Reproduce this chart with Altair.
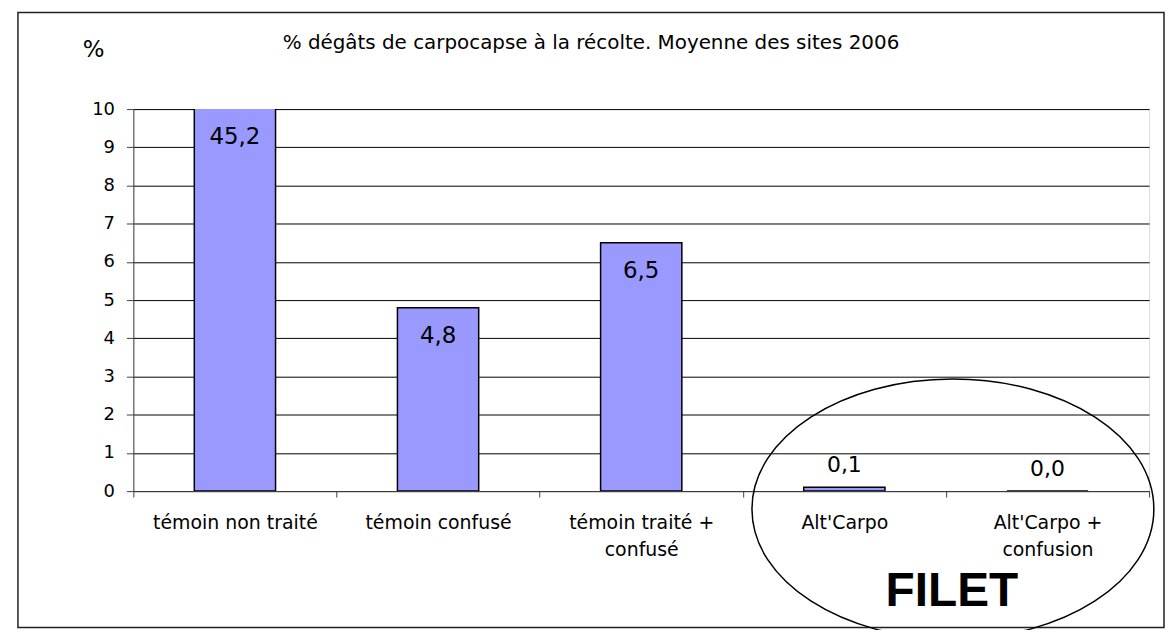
import altair as alt
import pandas as pd

# ---- data ----
categories = ["témoin non traité", "témoin confusé", "témoin traité + confusé",
              "Alt'Carpo", "Alt'Carpo + confusion"]
values = [45.2, 4.8, 6.5, 0.1, 0.0]
y_ticks = [0, 1, 2, 3, 4, 5, 6, 7, 8, 9, 10]
title_text = "% dégâts de carpocapse à la récolte. Moyenne des sites 2006"
y_title = "%"
group_label = "FILET"
group_anchor = ["Alt'Carpo + confusion"]

FONT = "DejaVu Sans"
df = pd.DataFrame({"cat": categories, "v": values})

y_scale = alt.Scale(domain=[0, 10], nice=False, zero=True)
y_axis = alt.Axis(values=y_ticks, format="d", labelFont=FONT, labelFontSize=18,
                  labelColor="#000", labelPadding=12, tickSize=7,
                  domainColor="#404040", tickColor="#404040",
                  grid=True, gridColor="#000", gridWidth=1, title=None)
x_axis = alt.Axis(labelAngle=0, tickBand="extent",
                  labelExpr="isString(datum.value) ? split(replace(datum.value, '+ ', '+|'), '|') : ''",
                  labelFont=FONT, labelFontSize=19, labelColor="#000",
                  labelPadding=17, labelLineHeight=27, labelLimit=0,
                  tickSize=6, domainColor="#404040", tickColor="#404040",
                  grid=False, title=None)
x_scale = alt.Scale(paddingInner=0, paddingOuter=0)


def xenc(band=None):
    if band is None:
        return alt.X("cat:N", sort=categories, scale=x_scale, axis=x_axis, title=None)
    return alt.X("cat:N", sort=categories, scale=x_scale, axis=x_axis, title=None,
                 bandPosition=band)


def yenc(field):
    return alt.Y(field, scale=y_scale, axis=y_axis, title=None)


frame = alt.Chart(pd.DataFrame({"k": [0]})).mark_rect(
    filled=False, fillOpacity=0, stroke="#202020", strokeWidth=1.5
).encode(x=alt.value(-116), x2=alt.value(1036), y=alt.value(-97), y2=alt.value(521))

bars = alt.Chart(df).mark_bar(
    color="#9999FF", stroke="#000", strokeWidth=1.5, clip=True,
    width=alt.RelativeBandSize(0.4)
).encode(x=xenc(), y=yenc("v:Q"))

base = alt.Chart(df).transform_calculate(
    lab="replace(format(datum.v, '.1f'), '.', ',')",
    ly="min(datum.v, 10)")

lab_in = base.transform_filter("datum.v >= 1").mark_text(
    font=FONT, fontSize=23, dy=28, baseline="middle", color="#000"
).encode(x=xenc(), y=yenc("ly:Q"), text="lab:N")

lab_out = base.transform_filter("datum.v < 1").mark_text(
    font=FONT, fontSize=22, dy=-22, baseline="middle", color="#000"
).encode(x=xenc(), y=yenc("ly:Q"), text="lab:N")

# ellipse outline as a unit-width custom symbol path
ellipse_path = ("M -1 0 C -1 -0.3573 -0.5523 -0.647 0 -0.647 "
                "C 0.5523 -0.647 1 -0.3573 1 0 "
                "C 1 0.3573 0.5523 0.647 0 0.647 "
                "C -0.5523 0.647 -1 0.3573 -1 0 Z")

annot_df = pd.DataFrame({"cat": group_anchor, "label": [group_label]})

ellipse = alt.Chart(annot_df).mark_point(
    shape=ellipse_path, size=404 * 404, filled=False, stroke="#000",
    strokeWidth=1.5, opacity=1
).encode(x=xenc(0), xOffset=alt.value(7),
         y=alt.YDatum(-0.47, type="quantitative", scale=y_scale, axis=y_axis))

filet = alt.Chart(annot_df).mark_text(
    font="Liberation Sans", fontSize=48, fontWeight="bold", color="#000",
    baseline="middle", dx=6
).encode(x=xenc(0),
         y=alt.YDatum(-2.63, type="quantitative", scale=y_scale, axis=y_axis),
         text="label:N")

title = alt.Chart(pd.DataFrame({"t": [title_text]})).mark_text(
    font=FONT, fontSize=20, color="#000", baseline="middle", align="center"
).encode(x=alt.value(460), y=alt.value(-66), text="t:N")

ytitle = alt.Chart(pd.DataFrame({"t": [y_title]})).mark_text(
    font=FONT, fontSize=23, color="#000", baseline="middle", align="center"
).encode(x=alt.value(-40), y=alt.value(-59), text="t:N")

chart = alt.layer(frame, bars, lab_in, lab_out, ellipse, filet, title, ytitle).properties(
    width=1021, height=384,
    autosize=alt.AutoSizeParams(type="none"),
    padding={"left": 126, "top": 100, "right": 16, "bottom": 138},
    background="white",
).configure_view(stroke="#808080", strokeWidth=1.5).configure(font=FONT)

chart.save("out.html", embed_options={"renderer": "svg", "actions": False})
